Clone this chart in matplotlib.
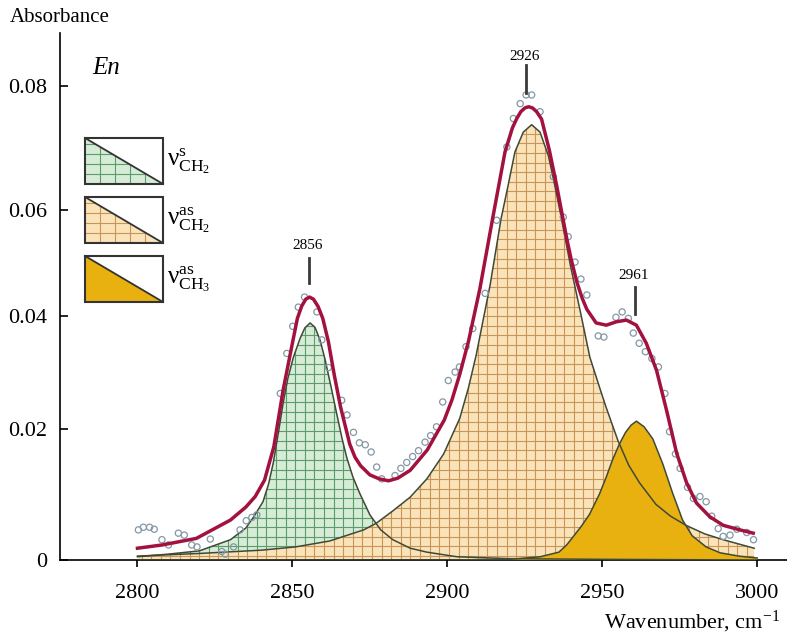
import numpy as np
import matplotlib
matplotlib.use('Agg')
import matplotlib.pyplot as plt
from matplotlib.patches import Rectangle, Polygon
from matplotlib.collections import LineCollection

# fitted total spectrum
wn_total = [2800, 2808, 2819, 2830, 2835, 2838, 2841, 2844, 2847, 2850.1,
            2851.6, 2853, 2854.3, 2855.5, 2856.8, 2858.3, 2859.8, 2861.6, 2863.5, 2865.5,
            2868.5, 2870.2, 2872, 2875, 2878, 2881, 2884, 2888, 2893.5, 2899,
            2901.5, 2904, 2906.8, 2910.5, 2914.6, 2918.6, 2921, 2922.4, 2923.7, 2925,
            2926.2, 2927.5, 2928.8, 2930.4, 2932.9, 2935.3, 2937.4, 2938.5, 2940, 2941.8,
            2943.5, 2945, 2948, 2951.3, 2954.5, 2957.8, 2961, 2964.2, 2967.5, 2970.7,
            2974, 2977.2, 2980.4, 2984.7, 2989, 2994.4, 2998.7]
abs_total = [0.0018, 0.0023, 0.0033, 0.0061, 0.0081, 0.0097, 0.0122, 0.0173, 0.0269, 0.0355,
             0.0396, 0.0419, 0.0432, 0.0436, 0.0432, 0.0418, 0.0396, 0.0355, 0.0296, 0.0240,
             0.0177, 0.0157, 0.0144, 0.0130, 0.0124, 0.0121, 0.0125, 0.0137, 0.0168, 0.0216,
             0.0252, 0.0297, 0.0355, 0.0452, 0.0584, 0.0694, 0.0733, 0.0748, 0.0759, 0.0765,
             0.0767, 0.0765, 0.0759, 0.0747, 0.0697, 0.0639, 0.0581, 0.0547, 0.0506, 0.0464,
             0.0434, 0.0413, 0.0388, 0.0384, 0.0390, 0.0393, 0.0384, 0.0352, 0.0304, 0.0234,
             0.0163, 0.0118, 0.0087, 0.0066, 0.0053, 0.0046, 0.0041]

# nu_s CH2 component
wn_s_ch2 = [2800, 2810, 2820, 2830, 2835, 2837.5, 2840.5, 2842.3, 2843.8, 2845.5,
            2847, 2848.5, 2850.3, 2852.5, 2854, 2855.7, 2857.3, 2858.9, 2860.5, 2862.5,
            2864.3, 2866, 2867.5, 2869.5, 2871.8, 2875, 2878.5, 2882.4, 2888, 2893.4,
            2903, 2920, 2950, 3000]
abs_s_ch2 = [0.0005, 0.0009, 0.0014, 0.0031, 0.0049, 0.0066, 0.0089, 0.0116, 0.0148, 0.0195,
             0.0246, 0.0289, 0.0327, 0.0361, 0.0379, 0.0388, 0.0380, 0.0358, 0.0324, 0.0274,
             0.0227, 0.0186, 0.0157, 0.0127, 0.0101, 0.0069, 0.0046, 0.0031, 0.0018, 0.0012,
             0.0005, 0.0002, 0.0001, 0.0]

# nu_as CH2 component
wn_as_ch2 = [2800, 2820, 2840, 2851, 2862, 2873, 2877, 2882.4, 2888, 2893.4,
             2898.8, 2904, 2906.8, 2909.3, 2913.8, 2917.3, 2919.6, 2921.8, 2924.5, 2927.2,
             2929.9, 2932.6, 2934.5, 2936.5, 2939.7, 2943, 2946, 2949.4, 2951.2, 2955,
             2958.5, 2962, 2967.3, 2972, 2977, 2983, 2989, 2999]
abs_as_ch2 = [0.0006, 0.0010, 0.0015, 0.0020, 0.0029, 0.0046, 0.0056, 0.0075, 0.0096, 0.0124,
              0.0162, 0.0219, 0.0273, 0.0331, 0.0459, 0.0583, 0.0640, 0.0694, 0.0726, 0.0738,
              0.0726, 0.0688, 0.0644, 0.0594, 0.0496, 0.0406, 0.0327, 0.0269, 0.0239, 0.0183,
              0.0145, 0.0118, 0.0085, 0.0067, 0.0053, 0.0040, 0.0031, 0.0018]

# nu_as CH3 component
wn_as_ch3 = [2800, 2900, 2920, 2930, 2936, 2938.5, 2940.5, 2943.3, 2945.9, 2949.1,
             2951.3, 2953.3, 2955.5, 2957.5, 2959.3, 2961, 2963.5, 2966.3, 2969.5, 2972.7,
             2975.9, 2979, 2983.5, 2988, 2994, 3000]
abs_as_ch3 = [0.0, 0.0, 0.0001, 0.0005, 0.0012, 0.0023, 0.0035, 0.0052, 0.0070, 0.0101,
              0.0127, 0.0153, 0.0177, 0.0195, 0.0207, 0.0214, 0.0204, 0.0185, 0.0147, 0.0102,
              0.0061, 0.0037, 0.0020, 0.0011, 0.0006, 0.0003]

# measured points
wn_points = [2800.3, 2801.9, 2803.9, 2805.4, 2807.9, 2810.0, 2813.2, 2815.1, 2817.5, 2819.2,
             2823.5, 2827.2, 2828.3, 2831.0, 2833.1, 2835.1, 2836.9, 2838.5, 2846.1, 2848.2,
             2850.1, 2851.9, 2853.9, 2857.9, 2859.5, 2861.6, 2865.9, 2867.6, 2869.7, 2871.6,
             2873.5, 2875.4, 2877.2, 2878.8, 2883.1, 2885.0, 2886.9, 2888.8, 2890.7, 2892.8,
             2894.6, 2896.5, 2898.5, 2900.3, 2902.5, 2903.9, 2906.0, 2908.2, 2912.2, 2915.9,
             2919.2, 2921.3, 2923.5, 2925.4, 2927.2, 2929.9, 2934.2, 2937.4, 2939.0, 2941.2,
             2943.1, 2945.0, 2948.7, 2950.5, 2954.4, 2956.4, 2958.4, 2960.0, 2961.9, 2963.9,
             2966.0, 2968.1, 2970.2, 2971.7, 2973.6, 2975.1, 2977.5, 2979.4, 2981.5, 2983.5,
             2985.3, 2987.4, 2989.0, 2991.2, 2993.4, 2996.6, 2998.8]
abs_points = [0.0046, 0.0050, 0.0050, 0.0047, 0.0031, 0.0023, 0.0041, 0.0038, 0.0023, 0.0020,
              0.0032, 0.0013, 0.0009, 0.0020, 0.0046, 0.0060, 0.0065, 0.0069, 0.0263, 0.0334,
              0.0382, 0.0417, 0.0436, 0.0408, 0.0358, 0.0309, 0.0251, 0.0225, 0.0195, 0.0179,
              0.0176, 0.0165, 0.0142, 0.0124, 0.0129, 0.0140, 0.0149, 0.0158, 0.0167, 0.0180,
              0.0190, 0.0204, 0.0248, 0.0286, 0.0301, 0.0310, 0.0346, 0.0378, 0.0443, 0.0581,
              0.0702, 0.0748, 0.0772, 0.0786, 0.0786, 0.0759, 0.0654, 0.0587, 0.0550, 0.0502,
              0.0470, 0.0440, 0.0365, 0.0363, 0.0398, 0.0408, 0.0396, 0.0370, 0.0352, 0.0337,
              0.0325, 0.0310, 0.0263, 0.0196, 0.0162, 0.0140, 0.0111, 0.0094, 0.0097, 0.0089,
              0.0067, 0.0048, 0.0036, 0.0038, 0.0047, 0.0042, 0.0031]

peaks = [2856, 2926, 2961]
peak_lo = [0.0462, 0.0789, 0.0404]
peak_hi = [0.0509, 0.0834, 0.0455]
peak_text = [0.0534, 0.0848, 0.0476]

x_ticks = [2800, 2850, 2900, 2950, 3000]
y_ticks = [0, 0.02, 0.04, 0.06, 0.08]
y_tick_labels = ['0', '0.02', '0.04', '0.06', '0.08']

legend_labels = [r'$\mathrm{\nu}^{\mathrm{s}}_{\mathrm{CH_2}}$',
                 r'$\mathrm{\nu}^{\mathrm{as}}_{\mathrm{CH_2}}$',
                 r'$\mathrm{\nu}^{\mathrm{as}}_{\mathrm{CH_3}}$']

plt.rcParams['font.family'] = ['Liberation Serif', 'DejaVu Serif']
plt.rcParams['mathtext.fontset'] = 'custom'
plt.rcParams['mathtext.rm'] = 'Liberation Serif'
plt.rcParams['mathtext.it'] = 'Liberation Serif:italic'

# the source y axis is not evenly spaced, map values to its pixel heights
knot_vals = [0, 0.02, 0.04, 0.06, 0.08, 0.10]
knot_px = [0, 131, 244, 350, 474, 598]


def forward(v):
    return np.interp(v, knot_vals, knot_px)


def inverse(p):
    return np.interp(p, knot_px, knot_vals)


X_LIM = (2775, 3009.6)
Y_LIM = (0, 0.0886)

fig = plt.figure(figsize=(7.87, 6.35), dpi=100)
ax = fig.add_axes([60 / 787, 75 / 635, 727 / 787, 527 / 635])
ax.set_yscale('function', functions=(forward, inverse))

green_face, green_grid = '#d6ecd6', '#5b9c6a'
beige_face, beige_grid = '#fbe3b9', '#c7945a'
gold = '#e8b10f'
outline = '#3f4a36'


def grid_inside(xs, ys, xspan, yspan, transform, color, z, clip, clip_tr=None):
    '''
    square grid lines, clipped to a filled shape
    '''
    segs = [[(x, yspan[0]), (x, yspan[1])] for x in xs]
    segs += [[(xspan[0], y), (xspan[1], y)] for y in ys]
    lc = LineCollection(segs, colors=color, linewidths=0.8, transform=transform, zorder=z)
    ax.add_collection(lc, autolim=False)
    if clip_tr is None:
        lc.set_clip_path(clip)
    else:
        lc.set_clip_path(clip, clip_tr)
    return lc


# grid every ~9.6 px as in the figure
grid_x = np.arange(2776.5, 3010, 3.1)
grid_y = inverse(np.arange(4, 530, 9.6))

g = ax.fill_between(wn_s_ch2, abs_s_ch2, 0, facecolor=green_face, linewidth=0, zorder=1)
grid_inside(grid_x, grid_y, X_LIM, Y_LIM, ax.transData, green_grid, 1.1,
            g.get_paths()[0], ax.transData)
b = ax.fill_between(wn_as_ch2, abs_as_ch2, 0, facecolor=beige_face, linewidth=0, zorder=2)
grid_inside(grid_x, grid_y, X_LIM, Y_LIM, ax.transData, beige_grid, 2.1,
            b.get_paths()[0], ax.transData)
ax.fill_between(wn_as_ch3, abs_as_ch3, 0, facecolor=gold, linewidth=0, zorder=3)

ax.plot(wn_s_ch2, abs_s_ch2, color=outline, lw=1.1, zorder=4)
ax.plot(wn_as_ch2, abs_as_ch2, color=outline, lw=1.1, zorder=4)
ax.plot(wn_as_ch3, abs_as_ch3, color=outline, lw=1.1, zorder=4)

ax.scatter(wn_points, abs_points, s=20, facecolors='none', edgecolors='#8497a5',
           linewidths=0.9, zorder=5)
ax.plot(wn_total, abs_total, color='#a3123f', lw=2.5, zorder=6)

for wn, lo, hi, ty in zip(peaks, peak_lo, peak_hi, peak_text):
    ax.plot([wn - 0.6, wn - 0.6], [lo, hi], color='#3a3a3a', lw=2, zorder=6)
    ax.text(wn - 1, ty, str(wn), ha='center', va='center', fontsize=11)

ax.set_xlim(*X_LIM)
ax.set_ylim(*Y_LIM)
ax.set_xticks(x_ticks)
ax.set_yticks(y_ticks)
ax.set_yticklabels(y_tick_labels)
ax.tick_params(axis='x', direction='out', length=5, width=1.2, pad=12, labelsize=16)
ax.tick_params(axis='y', direction='in', length=6, width=1.2, pad=9, labelsize=16)
ax.spines['top'].set_visible(False)
ax.spines['right'].set_visible(False)
for s in ['left', 'bottom']:
    ax.spines[s].set_linewidth(1.2)

ax.text(0.045, 0.933, 'En', transform=ax.transAxes, fontsize=18, style='italic',
        ha='left', va='center')

# legend boxes with triangles
box_x0, box_x1 = 0.0344, 0.1417
box_rows = [(0.7135, 0.8008), (0.6015, 0.6888), (0.4896, 0.5769)]
box_styles = [(green_face, green_grid), (beige_face, beige_grid), (gold, None)]
leg_gx = box_x0 + np.arange(1, 6) * 15 / 727
for (y0, y1), (fc, gc), lab in zip(box_rows, box_styles, legend_labels):
    ax.add_patch(Rectangle((box_x0, y0), box_x1 - box_x0, y1 - y0, transform=ax.transAxes,
                           facecolor='white', edgecolor='none', zorder=7))
    tri = Polygon([(box_x0, y1), (box_x0, y0), (box_x1, y0)], closed=True,
                  transform=ax.transAxes, facecolor=fc, linewidth=0, zorder=8)
    ax.add_patch(tri)
    if gc is not None:
        leg_gy = y0 + np.arange(1, 5) * 10 / 527
        grid_inside(leg_gx, leg_gy, (box_x0, box_x1), (y0, y1), ax.transAxes, gc, 8.1, tri)
    ax.plot([box_x0, box_x1], [y1, y0], transform=ax.transAxes, color='#333333', lw=1.3,
            zorder=9)
    ax.add_patch(Rectangle((box_x0, y0), box_x1 - box_x0, y1 - y0, transform=ax.transAxes,
                           facecolor='none', edgecolor='#333333', lw=1.5, zorder=9))
    ax.text(box_x1 + 0.006, (y0 + y1) / 2, lab, transform=ax.transAxes, fontsize=18,
            ha='left', va='center')

fig.text(10 / 787, 1 - 18 / 635, 'Absorbance', fontsize=15, ha='left', va='center')
fig.text(780 / 787, 1 - 622 / 635, r'Wavenumber, cm$^{-1}$', fontsize=16,
         ha='right', va='center')

fig.savefig('out.png', dpi=100)
